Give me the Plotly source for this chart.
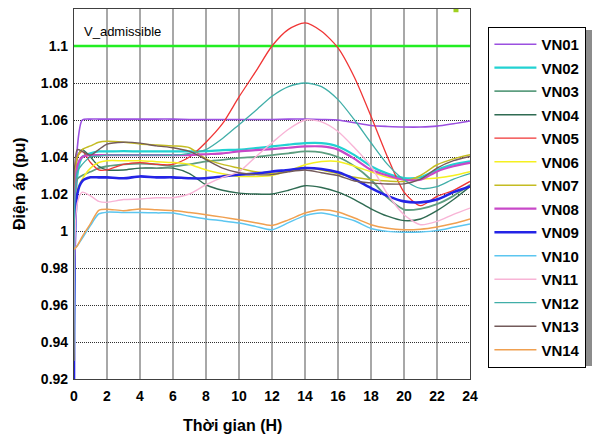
import plotly.graph_objects as go

hours = [0, 0.2, 0.5, 1, 1.5, 2, 3, 4, 5, 6, 7, 8, 9, 10, 11, 12, 13, 14, 15, 16, 17, 18, 19, 20, 21, 22, 23, 24]

vn01 = [0.92, 1.045, 1.060, 1.0605, 1.0605, 1.0605, 1.0605, 1.0605, 1.0605, 1.0605, 1.0603, 1.0603, 1.0603, 1.0603, 1.0603, 1.0603, 1.0605, 1.0605, 1.0603, 1.060, 1.0585, 1.057, 1.0565, 1.0562, 1.0562, 1.0567, 1.058, 1.0595]
vn02 = [0.93, 1.030, 1.040, 1.042, 1.043, 1.043, 1.0432, 1.043, 1.043, 1.043, 1.043, 1.0432, 1.0437, 1.044, 1.0448, 1.0457, 1.0467, 1.0475, 1.0475, 1.0457, 1.041, 1.035, 1.031, 1.0286, 1.029, 1.033, 1.036, 1.0376]
vn03 = [0.94, 1.028, 1.030, 1.032, 1.034, 1.035, 1.036, 1.0365, 1.036, 1.035, 1.036, 1.0376, 1.0385, 1.0395, 1.040, 1.041, 1.042, 1.043, 1.0425, 1.040, 1.035, 1.0277, 1.018, 1.0116, 1.012, 1.0145, 1.019, 1.025]
vn04 = [0.94, 1.040, 1.044, 1.040, 1.035, 1.033, 1.033, 1.034, 1.034, 1.034, 1.031, 1.025, 1.022, 1.0205, 1.020, 1.020, 1.022, 1.0245, 1.0235, 1.021, 1.017, 1.012, 1.008, 1.0056, 1.0065, 1.011, 1.017, 1.024]
vn05 = [0.92, 1.040, 1.043, 1.037, 1.033, 1.033, 1.036, 1.037, 1.036, 1.036, 1.040, 1.048, 1.058, 1.0725, 1.086, 1.100, 1.109, 1.1125, 1.108, 1.099, 1.083, 1.062, 1.040, 1.021, 1.0137, 1.0187, 1.022, 1.0268]
vn06 = [0.93, 1.022, 1.028, 1.034, 1.037, 1.038, 1.038, 1.038, 1.0375, 1.037, 1.036, 1.033, 1.031, 1.0295, 1.0295, 1.030, 1.0325, 1.0358, 1.0376, 1.0376, 1.035, 1.032, 1.029, 1.0277, 1.028, 1.0286, 1.030, 1.032]
vn07 = [0.93, 1.040, 1.044, 1.046, 1.048, 1.0485, 1.048, 1.047, 1.0465, 1.046, 1.045, 1.039, 1.036, 1.034, 1.032, 1.031, 1.0325, 1.034, 1.033, 1.031, 1.029, 1.0277, 1.027, 1.0268, 1.030, 1.0358, 1.039, 1.0412]
vn08 = [0.93, 1.035, 1.040, 1.041, 1.041, 1.041, 1.041, 1.041, 1.041, 1.041, 1.041, 1.0415, 1.042, 1.043, 1.0437, 1.0443, 1.045, 1.0457, 1.0457, 1.044, 1.039, 1.0331, 1.030, 1.0277, 1.0277, 1.0322, 1.035, 1.0368]
vn09 = [0.92, 1.020, 1.027, 1.029, 1.029, 1.029, 1.0285, 1.0295, 1.029, 1.029, 1.0285, 1.0285, 1.0295, 1.0304, 1.031, 1.0322, 1.033, 1.034, 1.0335, 1.0317, 1.028, 1.0232, 1.019, 1.016, 1.0155, 1.017, 1.021, 1.0241]
vn10 = [0.99, 0.992, 0.996, 1.003, 1.0092, 1.0102, 1.010, 1.010, 1.0098, 1.0097, 1.008, 1.0065, 1.0055, 1.0043, 1.0025, 1.0007, 1.0045, 1.0083, 1.0097, 1.0079, 1.0055, 1.0014, 0.9998, 0.9993, 0.9995, 1.0002, 1.002, 1.0038]
vn11 = [0.93, 1.015, 1.021, 1.019, 1.016, 1.0155, 1.017, 1.0173, 1.018, 1.018, 1.020, 1.025, 1.029, 1.032, 1.040, 1.0477, 1.055, 1.060, 1.059, 1.0538, 1.045, 1.035, 1.020, 1.0088, 1.0034, 1.0052, 1.009, 1.0124]
vn12 = [0.93, 1.032, 1.036, 1.040, 1.0405, 1.041, 1.041, 1.041, 1.041, 1.041, 1.042, 1.044, 1.050, 1.0575, 1.065, 1.0728, 1.078, 1.080, 1.078, 1.071, 1.060, 1.0477, 1.036, 1.0277, 1.023, 1.024, 1.028, 1.031]
vn13 = [0.93, 1.044, 1.043, 1.041, 1.044, 1.047, 1.048, 1.0475, 1.046, 1.045, 1.043, 1.0386, 1.034, 1.0315, 1.0305, 1.0305, 1.032, 1.033, 1.0315, 1.030, 1.027, 1.026, 1.0254, 1.0255, 1.028, 1.034, 1.038, 1.0403]
vn14 = [0.99, 0.992, 0.997, 1.004, 1.0112, 1.0118, 1.011, 1.0119, 1.0115, 1.0111, 1.010, 1.0088, 1.0075, 1.0061, 1.0045, 1.003, 1.006, 1.0097, 1.0115, 1.0103, 1.007, 1.0034, 1.0015, 1.0007, 1.001, 1.0022, 1.004, 1.0065]

names = ["VN01", "VN02", "VN03", "VN04", "VN05", "VN06", "VN07",
         "VN08", "VN09", "VN10", "VN11", "VN12", "VN13", "VN14"]
series = [vn01, vn02, vn03, vn04, vn05, vn06, vn07, vn08, vn09, vn10, vn11, vn12, vn13, vn14]
colors = ["#9b50e0", "#22d2d2", "#5e9e80", "#2f6b52", "#f03535", "#f5f020", "#c4bc22",
          "#c848c8", "#2424e6", "#5cc6f0", "#f8b4d6", "#40aea8", "#735a5a", "#f0a050"]
widths = [1.6, 2.2, 1.8, 1.4, 1.3, 1.5, 1.5, 2.2, 2.6, 1.5, 1.4, 1.3, 1.4, 1.5]

v_adm_x = [0, 24]
v_adm_y = [1.1, 1.1]

FONT = "Liberation Sans, Arial"

fig = go.Figure()

fig.add_trace(go.Scatter(x=v_adm_x, y=v_adm_y, mode="lines",
                         line=dict(color="#22ee22", width=2.5), showlegend=False,
                         hoverinfo="skip"))

for i, (nm, ys) in enumerate(zip(names, series)):
    fig.add_trace(go.Scatter(x=hours, y=ys, name=nm, mode="lines",
                             legendgroup=nm,
                             line=dict(color=colors[i], width=widths[i],
                                       shape="spline", smoothing=0.7)))

fig.add_trace(go.Scatter(x=[23.15], y=[1.1196], mode="markers",
                         marker=dict(symbol="square", size=5, color="#a0d020"),
                         showlegend=False, hoverinfo="skip"))

fig.add_annotation(x=0.5, y=1.108, xref="x", yref="y", text="V_admissible",
                   showarrow=False, xanchor="left", yanchor="middle",
                   font=dict(family=FONT, size=13, color="#000000"))

# legend shadow
fig.add_shape(type="rect", xref="paper", yref="paper",
              x0=(491 - 74) / 396, x1=(592 - 74) / 396,
              y0=(379 - 366) / 370, y1=(379 - 30) / 370,
              fillcolor="#8c8c8c", line=dict(width=0), layer="above")

fig.update_layout(
    width=593, height=439,
    margin=dict(l=74, r=123, t=9, b=60, autoexpand=False),
    paper_bgcolor="white", plot_bgcolor="white",
    font=dict(family=FONT, color="#000000"),
    legend=dict(x=1.046, y=0.952, xanchor="left", yanchor="top",
                bordercolor="#000000", borderwidth=1.2, bgcolor="white",
                traceorder="grouped", tracegroupgap=1,
                font=dict(family=FONT, size=15, color="#000000", weight="bold"),
                itemwidth=42),
    showlegend=True,
)

fig.update_xaxes(range=[0, 24], tickvals=list(range(0, 25, 2)),
                 tickfont=dict(size=14, family=FONT, weight="bold"),
                 showgrid=True, gridcolor="#a8a8a8", gridwidth=1.5,
                 showline=True, linecolor="#404040", linewidth=1.2, mirror=True,
                 zeroline=False, ticks="", ticklabelstandoff=4)

yt = [0.92, 0.94, 0.96, 0.98, 1.0, 1.02, 1.04, 1.06, 1.08, 1.1]
yl = ["0.92", "0.94", "0.96", "0.98", "1", "1.02", "1.04", "1.06", "1.08", "1.1"]
fig.update_yaxes(range=[0.92, 1.12], tickvals=yt, ticktext=yl,
                 tickfont=dict(size=14, family=FONT, weight="bold"),
                 showgrid=True, gridcolor="#303030", gridwidth=1, griddash="1px,1px",
                 showline=True, linecolor="#404040", linewidth=1.2, mirror=True,
                 zeroline=False, ticks="", ticklabelstandoff=2)

fig.add_annotation(x=(232 - 74) / 396, y=-0.125, xref="paper", yref="paper",
                   text="<b>Thời gian (H)</b>", showarrow=False,
                   xanchor="center", yanchor="middle",
                   font=dict(family=FONT, size=16, color="#000000"))
fig.add_annotation(x=-0.139, y=(379 - 184) / 370, xref="paper", yref="paper",
                   text="<b>Điện áp (pu)</b>", showarrow=False, textangle=-90,
                   xanchor="center", yanchor="middle",
                   font=dict(family=FONT, size=16, color="#000000"))

fig.write_html("out.html")
